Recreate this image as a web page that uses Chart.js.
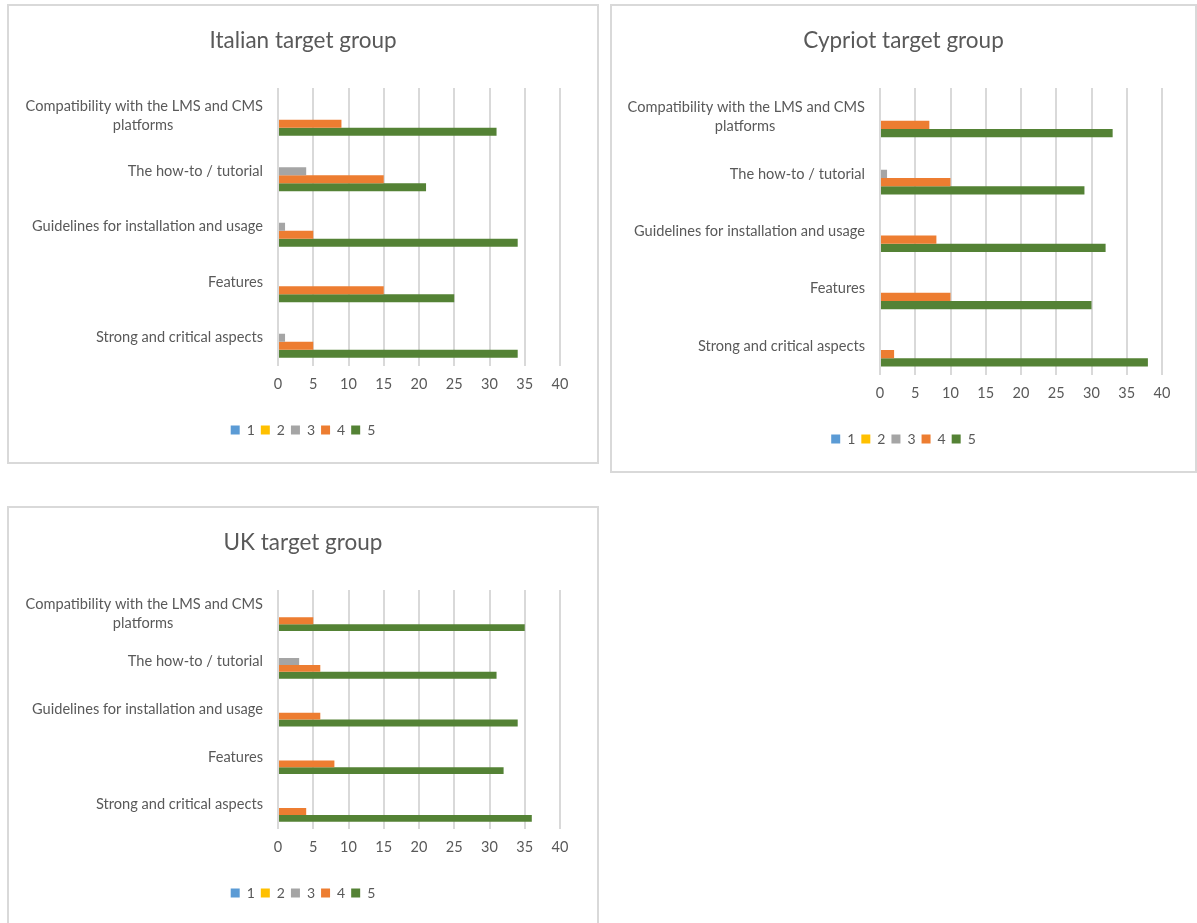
<!DOCTYPE html>
<html>
<head>
<meta charset="utf-8">
<script src="https://cdn.jsdelivr.net/npm/chart.js@4/dist/chart.umd.min.js"></script>
<style>
  html, body { margin: 0; padding: 0; background: #fff; overflow: hidden; }
  .panel { position: absolute; border: 2px solid #d9d9d9; background: #fff; }
  .panel div { position: relative; width: 100%; height: 100%; }
</style>
</head>
<body>
<div class="panel" style="left:7px; top:4px; width:588px; height:456px;"><div><canvas id="italyChart"></canvas></div></div>
<div class="panel" style="left:610px; top:4px; width:583px; height:465px;"><div><canvas id="cyprusChart"></canvas></div></div>
<div class="panel" style="left:7px; top:506px; width:588px; height:417px;"><div><canvas id="ukChart"></canvas></div></div>
<script>
// categories, top to bottom as shown
const categories = [
  ['Compatibility with the LMS and CMS', 'platforms'],
  'The how-to / tutorial',
  'Guidelines for installation and usage',
  'Features',
  'Strong and critical aspects'
];
const seriesNames = ['1', '2', '3', '4', '5'];
const seriesColors = ['#5B9BD5', '#FFC000', '#A5A5A5', '#ED7D31', '#548235'];
const xTicks = [0, 5, 10, 15, 20, 25, 30, 35, 40];

// Italian
const italy1 = [0, 0, 0, 0, 0];
const italy2 = [0, 0, 0, 0, 0];
const italy3 = [0, 4, 1, 0, 1];
const italy4 = [9, 15, 5, 15, 5];
const italy5 = [31, 21, 34, 25, 34];

// Cypriot
const cyprus1 = [0, 0, 0, 0, 0];
const cyprus2 = [0, 0, 0, 0, 0];
const cyprus3 = [0, 1, 0, 0, 0];
const cyprus4 = [7, 10, 8, 10, 2];
const cyprus5 = [33, 29, 32, 30, 38];

// UK
const uk1 = [0, 0, 0, 0, 0];
const uk2 = [0, 0, 0, 0, 0];
const uk3 = [0, 3, 0, 0, 0];
const uk4 = [5, 6, 6, 8, 4];
const uk5 = [35, 31, 34, 32, 36];

const FONT = 'Lato';
const TEXT = '#595959';
const LABEL_SIZE = 14.6;

// pad shorter lines of a multi-line label so they sit centered under the longest one
const measureCtx = document.createElement('canvas').getContext('2d');
measureCtx.font = LABEL_SIZE + 'px ' + FONT;
function centerLines(label) {
  if (!Array.isArray(label)) return label;
  const widths = label.map(l => measureCtx.measureText(l).width);
  const maxW = Math.max(...widths);
  const sp = measureCtx.measureText(' ').width;
  return label.map((l, i) => l + ' '.repeat(Math.round((maxW - widths[i]) / 2 / sp)));
}
const yLabels = categories.map(centerLines);

function makeChart(id, title, series, yWidth, rightGap) {
  new Chart(document.getElementById(id), {
    type: 'bar',
    data: {
      labels: yLabels,
      datasets: series.map((d, i) => ({
        label: seriesNames[i],
        data: d,
        backgroundColor: seriesColors[i],
        borderWidth: 0,
        barPercentage: 1,
        categoryPercentage: 0.72
      }))
    },
    options: {
      indexAxis: 'y',
      responsive: true,
      maintainAspectRatio: false,
      animation: false,
      layout: { padding: { top: 0, right: 0, bottom: 15, left: 0 } },
      scales: {
        x: {
          min: 0, max: 40,
          afterBuildTicks: s => { s.ticks = xTicks.map(v => ({ value: v })); },
          afterFit: s => { s.height = 51.5; },
          grid: { color: '#d9d9d9', lineWidth: 2, drawTicks: false },
          border: { display: false },
          ticks: { padding: 10, color: TEXT, font: { family: FONT, size: 14.5 } }
        },
        y: {
          afterFit: s => { s.width = yWidth; },
          grid: { display: false, drawTicks: false },
          border: { display: false },
          ticks: { padding: 15, color: TEXT, font: { family: FONT, size: LABEL_SIZE, lineHeight: 1.35 } }
        },
        // empty right-hand axis, only keeps the gap right of the plot
        gap: {
          type: 'linear',
          position: 'right',
          afterFit: s => { s.width = rightGap; },
          grid: { display: false, drawTicks: false },
          border: { display: false },
          ticks: { display: false }
        }
      },
      plugins: {
        title: {
          display: true,
          text: title,
          color: TEXT,
          font: { family: FONT, size: 22.5, weight: 'normal' },
          padding: { top: 21.5, bottom: 33.5 }
        },
        legend: {
          position: 'bottom',
          labels: {
            boxWidth: 9, boxHeight: 9, padding: 6,
            color: TEXT, font: { family: FONT, size: 14 }
          }
        },
        tooltip: { enabled: false }
      }
    }
  });
}

makeChart('italyChart', 'Italian target group', [italy1, italy2, italy3, italy4, italy5], 269, 37);
makeChart('cyprusChart', 'Cypriot target group', [cyprus1, cyprus2, cyprus3, cyprus4, cyprus5], 268, 33);
makeChart('ukChart', 'UK target group', [uk1, uk2, uk3, uk4, uk5], 269, 37);
</script>
</body>
</html>
